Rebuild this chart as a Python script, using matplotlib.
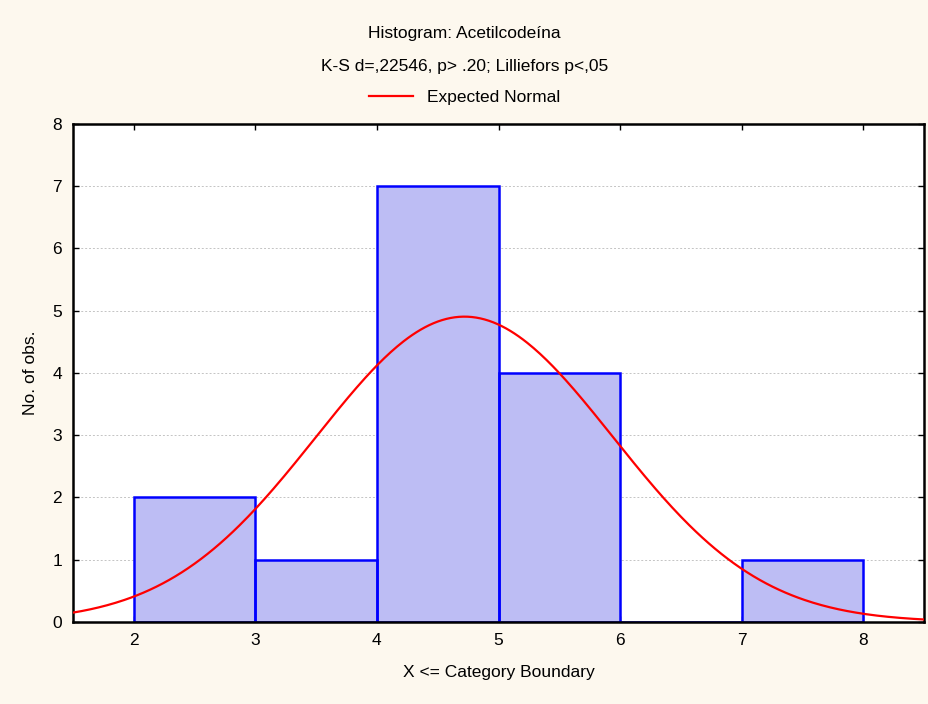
import numpy as np
import matplotlib.pyplot as plt

plt.rcParams['font.family'] = ['Liberation Sans', 'DejaVu Sans']

# Histogram bins (category boundaries) and counts
edges = [2, 3, 4, 5, 6, 7, 8]
counts = [2, 1, 7, 4, 0, 1]

# Expected normal parameters
mu = 4.72
sigma = 1.22
n_obs = sum(counts)
bin_w = 1.0

fig = plt.figure(figsize=(9.29, 7.04), dpi=100, facecolor='#fdf8ee')
ax = fig.add_axes([0.0786, 0.1165, 0.916, 0.7074])
ax.set_facecolor('white')

# light fill first, then the blue outlines on top
ax.bar(edges[:-1], counts, width=np.diff(edges), align='edge',
       facecolor='#bdbdf4', edgecolor='none', zorder=2)
ax.bar(edges[:-1], counts, width=np.diff(edges), align='edge',
       facecolor='none', edgecolor='#0000ff', linewidth=1.8, zorder=2.5)

xs = np.linspace(1.5, 8.5, 400)
ys = n_obs * bin_w / (sigma * np.sqrt(2 * np.pi)) * np.exp(-0.5 * ((xs - mu) / sigma) ** 2)
ax.plot(xs, ys, color='#ff0000', lw=1.6, zorder=3, label='Expected Normal')

ax.set_xlim(1.5, 8.5)
ax.set_ylim(0, 8)
ax.set_xticks(range(2, 9))
ax.set_yticks(range(0, 9))
ax.tick_params(direction='in', top=True, right=True, labelsize=12.5, length=4, width=1, pad=8)
ax.grid(axis='y', color='#c4c4c4', linestyle=(0, (2, 2)), linewidth=0.7, zorder=0)
for s in ax.spines.values():
    s.set_linewidth(1.8)

ax.set_xlabel('X <= Category Boundary', fontsize=12.5, labelpad=12)
ax.set_ylabel('No. of obs.', fontsize=12.5, labelpad=10)

fig.text(0.5, 0.953, 'Histogram: Acetilcodeína', ha='center', va='center', fontsize=12.5)
fig.text(0.5, 0.906, 'K-S d=,22546, p> .20; Lilliefors p<,05', ha='center', va='center', fontsize=12.5)
fig.legend(loc='center', bbox_to_anchor=(0.5, 0.861), frameon=False, fontsize=12.5,
           handlelength=2.5, handletextpad=0.8)

fig.savefig('out.png', dpi=100, facecolor=fig.get_facecolor())
